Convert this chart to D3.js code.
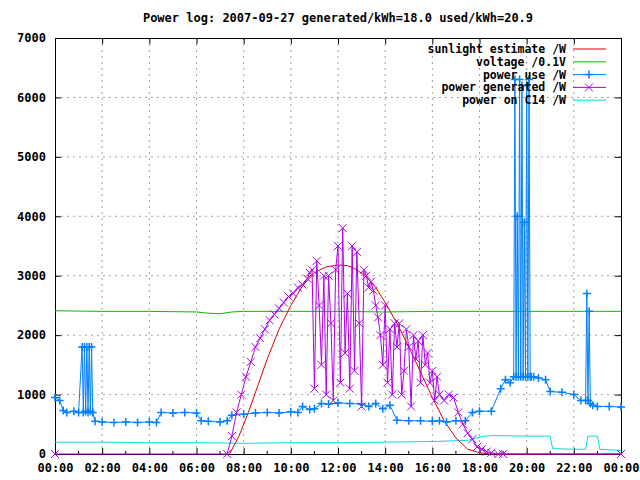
<!DOCTYPE html>
<html><head><meta charset="utf-8">
<script src="https://cdn.jsdelivr.net/npm/d3@7"></script>
<style>body{margin:0;background:#fff}text{font-family:"DejaVu Sans Mono",monospace;font-size:12px;font-weight:bold}</style>
</head><body><svg width="640" height="480"></svg>
<script>
// hours of the day and values
const hourTicks = ["00:00","02:00","04:00","06:00","08:00","10:00","12:00","14:00","16:00","18:00","20:00","22:00","00:00"];

const sunT = [7.4,7.8,8.2,8.6,9.0,9.5,10.0,10.5,11.0,11.5,12.0,12.4,12.8,13.2,13.6,14.0,14.5,15.0,15.5,16.0,16.5,17.0,17.5,18.0,18.5,24];
const sunV = [0,300,700,1150,1600,2100,2500,2830,3050,3150,3180,3170,3100,2980,2800,2550,2200,1800,1380,950,560,270,80,20,0,0];

const voltT = [0,2,4,6,6.5,7,7.5,8,10,12,14,16,18,20,22,24];
const voltV = [2410,2400,2400,2390,2370,2360,2390,2400,2400,2400,2390,2400,2400,2400,2400,2400];

const c14T = [0,2,4,6,8,10,12,14,16,17.5,18.2,18.6,20,21,21.1,22,22.5,22.6,23,23.1,24];
const c14V = [200,200,190,190,180,190,190,200,210,230,300,310,300,300,90,80,80,300,300,80,60];

const useT = [0,0.2,0.35,0.5,0.8,1.0,1.15,1.2,1.25,1.3,1.35,1.4,1.45,1.5,1.55,1.6,1.7,2,2.5,3,3.5,4,4.3,4.5,5,5.5,6,6.2,6.5,7,7.3,7.5,8,8.5,9,9.5,10,10.3,10.5,10.8,11,11.3,11.6,12,12.5,13,13.3,13.6,13.9,14.2,14.5,15,15.5,16,16.3,16.6,17,17.4,17.7,18,18.5,18.9,19.1,19.3,19.45,19.5,19.55,19.6,19.65,19.7,19.75,19.8,19.85,19.9,19.95,20,20.05,20.1,20.15,20.2,20.3,20.5,20.8,21,21.5,22,22.3,22.5,22.55,22.6,22.65,22.7,22.8,23,23.5,24];
const useV = [950,900,730,700,720,700,1800,700,1800,720,1800,700,1800,720,1800,700,550,540,530,540,530,540,530,700,690,700,690,560,550,540,560,650,670,690,700,690,710,700,800,750,760,850,840,860,850,840,800,850,760,820,570,560,560,550,560,540,560,560,700,720,720,1100,1250,1200,1300,6300,1300,4000,1300,6300,1300,6200,1300,3900,1300,6200,1300,6300,1300,1300,1300,1280,1250,1050,1040,1000,900,900,2700,900,2400,850,820,800,800,790];

const genT = [0,7.3,7.5,7.7,7.9,8.1,8.3,8.5,8.7,8.9,9.1,9.3,9.5,9.7,9.9,10.1,10.3,10.5,10.7,10.8,10.9,11.0,11.1,11.2,11.3,11.4,11.5,11.6,11.7,11.8,11.9,12.0,12.1,12.2,12.3,12.4,12.5,12.6,12.7,12.8,12.9,13.0,13.1,13.2,13.3,13.4,13.5,13.6,13.7,13.8,13.9,14.0,14.1,14.2,14.3,14.4,14.5,14.6,14.7,14.8,14.9,15.0,15.1,15.2,15.3,15.4,15.5,15.6,15.7,15.8,15.9,16.0,16.1,16.2,16.3,16.5,16.7,16.9,17.1,17.3,17.5,17.7,17.9,18.1,18.3,18.5,18.8,19.0,24];
const genV = [0,0,300,700,1000,1300,1550,1800,1950,2100,2250,2350,2450,2550,2650,2700,2800,2850,2950,3050,3100,1100,3250,2500,1500,3000,1000,3000,2200,900,3100,3500,1200,3800,1700,2700,1100,3500,1400,3400,2200,800,3100,3000,2800,2900,2750,2500,2300,2000,1500,2500,1200,2100,1000,2200,1800,2200,1000,1400,2100,1800,800,2000,1600,1900,1200,2000,1500,1700,1200,1400,900,1300,1000,900,1000,950,700,500,350,250,120,80,40,20,0,0,0];

const svg = d3.select("svg");
const m = {l: 55, r: 621, t: 38, b: 454};
const x = d3.scaleLinear().domain([0, 24]).range([m.l, m.r]);
const y = d3.scaleLinear().domain([0, 7000]).range([m.b, m.t]);

// grid
const g = svg.append("g");
d3.range(1000, 7000, 1000).forEach(v => g.append("line").attr("x1", m.l).attr("x2", m.r)
    .attr("y1", y(v)).attr("y2", y(v)).attr("stroke", "#a0a0a0").attr("stroke-dasharray", "2,4"));
d3.range(2, 24, 2).forEach(h => g.append("line").attr("y1", m.t).attr("y2", m.b)
    .attr("x1", x(h)).attr("x2", x(h)).attr("stroke", "#a0a0a0").attr("stroke-dasharray", "2,4"));

// axes
const leftAxis = d3.axisLeft(y).tickValues(d3.range(0, 7001, 1000)).tickSize(-6).tickPadding(9).tickFormat(d3.format("d"));
const bottomAxis = d3.axisBottom(x).tickValues(d3.range(0, 25, 2)).tickSize(-6).tickPadding(9)
    .tickFormat((d, i) => hourTicks[i]);
svg.append("g").attr("transform", `translate(${m.l},0)`).call(leftAxis);
svg.append("g").attr("transform", `translate(0,${m.b})`).call(bottomAxis);
svg.append("g").attr("transform", `translate(${m.r},0)`).call(d3.axisRight(y).tickValues(d3.range(0, 7001, 1000)).tickSize(-6).tickFormat(""));
svg.append("g").attr("transform", `translate(0,${m.t})`).call(d3.axisTop(x).tickValues(d3.range(0, 25, 2)).tickSize(-6).tickFormat(""));
svg.selectAll(".domain").attr("stroke", "#000");
svg.selectAll(".tick text").attr("fill", "#000").style("font-size", "12px");
// minor ticks on bottom
d3.range(1, 24, 2).forEach(h => svg.append("line").attr("x1", x(h)).attr("x2", x(h))
    .attr("y1", m.b).attr("y2", m.b - 3).attr("stroke", "#000"));

const line = d3.line().x(d => x(d[0])).y(d => y(d[1]));
const zip = (a, b) => a.map((t, i) => [t, b[i]]);
const plot = svg.append("g");

function drawLine(pts, color) {
    plot.append("path").datum(pts).attr("d", line).attr("fill", "none").attr("stroke", color).attr("stroke-width", 1);
}
drawLine(zip(voltT, voltV), "#00c000");
drawLine(zip(c14T, c14V), "#00e0e0");
drawLine(zip(sunT, sunV), "#e00000");

const usePts = zip(useT, useV);
drawLine(usePts, "#0080ff");
plot.append("g").selectAll("path").data(usePts).enter().append("path")
    .attr("d", d => `M${x(d[0]) - 4},${y(d[1])}h8M${x(d[0])},${y(d[1]) - 4}v8`)
    .attr("stroke", "#0080ff").attr("stroke-width", 1.5);

const genPts = zip(genT, genV);
drawLine(genPts, "#b000f0");
plot.append("g").selectAll("path").data(genPts).enter().append("path")
    .attr("d", d => `M${x(d[0]) - 4},${y(d[1]) - 4}l8,8M${x(d[0]) - 4},${y(d[1]) + 4}l8,-8`)
    .attr("stroke", "#b000f0").attr("stroke-width", 1);

// title
svg.append("text").attr("x", 338).attr("y", 22).attr("text-anchor", "middle")
    .text("Power log: 2007-09-27 generated/kWh=18.0 used/kWh=20.9");

// legend
const legend = [
    ["sunlight estimate /W", "#e00000", null],
    ["voltage /0.1V", "#00c000", null],
    ["power use /W", "#0080ff", "+"],
    ["power generated /W", "#b000f0", "x"],
    ["power on C14 /W", "#00e0e0", null]
];
legend.forEach((d, i) => {
    const ly = 49 + i * 12.8;
    svg.append("text").attr("x", 566).attr("y", ly + 4).attr("text-anchor", "end").style("font-size", "11.5px").text(d[0]);
    svg.append("line").attr("x1", 573).attr("x2", 606).attr("y1", ly).attr("y2", ly).attr("stroke", d[1]);
    if (d[2] === "+") svg.append("path").attr("d", `M585,${ly}h8M589,${ly - 4}v8`).attr("stroke", d[1]).attr("stroke-width", 1.5);
    if (d[2] === "x") svg.append("path").attr("d", `M585,${ly - 4}l8,8M585,${ly + 4}l8,-8`).attr("stroke", d[1]);
});
</script></body></html>
